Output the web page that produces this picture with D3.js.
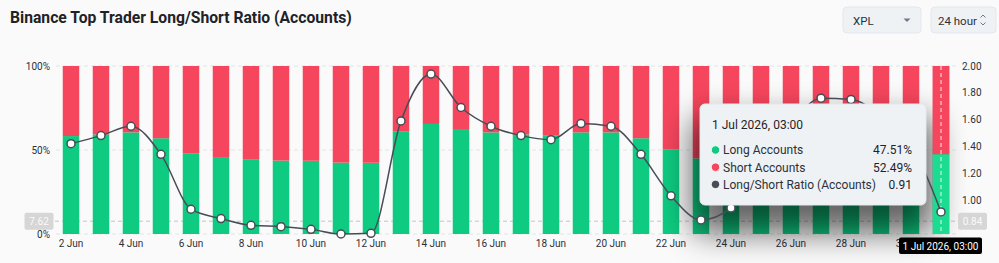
<!DOCTYPE html>
<html>
<head>
<meta charset="utf-8">
<script src="https://cdn.jsdelivr.net/npm/d3@7"></script>
<style>
  body { margin: 0; background: #fafafa; font-family: Roboto, "Noto Sans", sans-serif; }
  #chart { width: 999px; height: 263px; }
</style>
</head>
<body>
<div id="chart"></div>
<script>
// values
const days = ["2 Jun","3 Jun","4 Jun","5 Jun","6 Jun","7 Jun","8 Jun","9 Jun","10 Jun","11 Jun",
  "12 Jun","13 Jun","14 Jun","15 Jun","16 Jun","17 Jun","18 Jun","19 Jun","20 Jun","21 Jun",
  "22 Jun","23 Jun","24 Jun","25 Jun","26 Jun","27 Jun","28 Jun","29 Jun","30 Jun","1 Jul"];
const longPct = [58.3, 59.3, 60.5, 57.0, 47.8, 45.8, 44.2, 43.7, 43.6, 42.5,
  42.4, 60.9, 65.5, 62.5, 60.5, 59.3, 58.5, 60.5, 60.5, 57.0,
  50.2, 45.0, 48.5, 55.2, 60.9, 63.8, 63.6, 62.0, 58.7, 47.51];
const ratio = [1.42, 1.48, 1.55, 1.34, 0.93, 0.86, 0.81, 0.80, 0.78, 0.745,
  0.75, 1.59, 1.94, 1.69, 1.55, 1.48, 1.45, 1.57, 1.55, 1.34,
  1.03, 0.85, 0.94, 1.23, 1.56, 1.76, 1.75, 1.63, 1.42, 0.91];
const xTickLabels = ["2 Jun","4 Jun","6 Jun","8 Jun","10 Jun","12 Jun","14 Jun","16 Jun",
  "18 Jun","20 Jun","22 Jun","24 Jun","26 Jun","28 Jun","30 Jun"];
const leftTicks = [0, 50, 100];
const rightTicks = [1.0, 1.2, 1.4, 1.6, 1.8, 2.0];
const ratioMax = 2.0;

// hover state shown in the picture
const hoverIndex = 29;
const hoverTime = "1 Jul 2026, 03:00";
const cursorPct = 7.62;

const GREEN = "#0ecb81", GREEN_HI = "#1cdc92", RED = "#f6465d", LINE = "#474d57";
const TXT = "#2b3139";

const width = 999, height = 263;
const svg = d3.select("#chart").append("svg")
    .attr("width", width)
    .attr("height", height);

const defs = svg.append("defs");
const shadow = defs.append("filter")
    .attr("id", "tipShadow")
    .attr("filterUnits", "userSpaceOnUse")
    .attr("x", 560).attr("y", 40)
    .attr("width", 439).attr("height", 223);
shadow.append("feGaussianBlur").attr("stdDeviation", 16);

// title
svg.append("text")
    .attr("x", 10).attr("y", 23)
    .attr("font-size", 15.7)
    .attr("font-weight", 700)
    .attr("fill", "#1e2329")
    .text("Binance Top Trader Long/Short Ratio (Accounts)");

// select boxes
const sel = svg.append("g");
sel.append("rect").attr("x", 843).attr("y", 7).attr("width", 78).attr("height", 26)
    .attr("rx", 4).attr("fill", "#eff2f5").attr("stroke", "#e3e7eb");
sel.append("text").attr("x", 853).attr("y", 24.5).attr("font-size", 11.5).attr("fill", TXT).text("XPL");
sel.append("path").attr("d", "M903.5,18.5 L910.5,18.5 L907,22 Z").attr("fill", "#707a8a");
sel.append("rect").attr("x", 931).attr("y", 7).attr("width", 65).attr("height", 26)
    .attr("rx", 4).attr("fill", "#eff2f5").attr("stroke", "#e3e7eb");
sel.append("text").attr("x", 938).attr("y", 24.5).attr("font-size", 11.5).attr("fill", TXT).text("24 hour");
sel.append("path").attr("d", "M980.5,17.5 L983,15 L985.5,17.5 M980.5,22.5 L983,25 L985.5,22.5")
    .attr("fill", "none").attr("stroke", "#707a8a").attr("stroke-width", 1);

// scales
const x = d3.scaleBand()
    .domain(days)
    .range([56, 956])
    .paddingInner(0.45)
    .paddingOuter(0.225);

const yLeft = d3.scaleLinear()
    .domain([0, 100])
    .range([234, 66]);

const yRight = d3.scaleLinear()
    .domain([d3.min(ratio), ratioMax])
    .range([234, 66]);

const cx = d => x(d) + x.bandwidth() / 2;

// grid
svg.append("g").selectAll("line")
    .data(leftTicks)
    .join("line")
    .attr("x1", 56).attr("x2", 956)
    .attr("y1", d => yLeft(d)).attr("y2", d => yLeft(d))
    .attr("stroke", "#e4e4e4")
    .attr("stroke-dasharray", "4,3");

// axes
const leftAxis = svg.append("g")
    .attr("transform", "translate(50,0)")
    .call(d3.axisLeft(yLeft).tickValues(leftTicks).tickFormat(d => d + "%").tickSize(0).tickPadding(0));
const rightAxis = svg.append("g")
    .attr("transform", "translate(962,0)")
    .call(d3.axisRight(yRight).tickValues(rightTicks).tickFormat(d3.format(".2f")).tickSize(0).tickPadding(0));
const xAxis = svg.append("g")
    .attr("transform", "translate(0,240)")
    .call(d3.axisBottom(x).tickValues(xTickLabels).tickSize(0).tickPadding(0));
[leftAxis, rightAxis, xAxis].forEach(a => {
    a.select(".domain").remove();
    a.selectAll("text").attr("font-size", 10).attr("fill", TXT).attr("font-family", "Roboto, sans-serif");
});
xAxis.selectAll("text").attr("dy", "0.71em");

// cursor horizontal line (under bars)
const cursorY = yLeft(cursorPct);
svg.append("line")
    .attr("x1", 55).attr("x2", 957)
    .attr("y1", cursorY).attr("y2", cursorY)
    .attr("stroke", "#c4c4c4")
    .attr("stroke-dasharray", "4,3");

// stacked bars
const bars = svg.append("g");
bars.selectAll(".long")
    .data(days)
    .join("rect")
    .attr("class", "long")
    .attr("x", d => x(d))
    .attr("width", x.bandwidth())
    .attr("y", (d, i) => yLeft(longPct[i]))
    .attr("height", (d, i) => yLeft(0) - yLeft(longPct[i]))
    .attr("fill", GREEN);
bars.selectAll(".short")
    .data(days)
    .join("rect")
    .attr("class", "short")
    .attr("x", d => x(d))
    .attr("width", x.bandwidth())
    .attr("y", yLeft(100))
    .attr("height", (d, i) => yLeft(longPct[i]) - yLeft(100))
    .attr("fill", RED);

// tooltip geometry
const tip = {x: 700, y: 104, w: 226, h: 101};

// tooltip shadow
svg.append("rect")
    .attr("x", tip.x - 8).attr("y", tip.y + 14)
    .attr("width", tip.w + 16).attr("height", tip.h + 14)
    .attr("rx", 8)
    .attr("fill", "#000")
    .attr("opacity", 0.6)
    .attr("filter", "url(#tipShadow)");

// hovered bar on top
const hd = days[hoverIndex];
svg.append("rect")
    .attr("x", x(hd)).attr("width", x.bandwidth())
    .attr("y", yLeft(longPct[hoverIndex]))
    .attr("height", yLeft(0) - yLeft(longPct[hoverIndex]))
    .attr("fill", GREEN_HI);
svg.append("rect")
    .attr("x", x(hd)).attr("width", x.bandwidth())
    .attr("y", yLeft(100))
    .attr("height", yLeft(longPct[hoverIndex]) - yLeft(100))
    .attr("fill", RED);
svg.append("line")
    .attr("x1", cx(hd)).attr("x2", cx(hd))
    .attr("y1", 66).attr("y2", 234)
    .attr("stroke", "#ffffff")
    .attr("stroke-opacity", 0.85)
    .attr("stroke-dasharray", "4,3");

// ratio line
const line = d3.line()
    .x(d => cx(d))
    .y((d, i) => yRight(ratio[i]))
    .curve(d3.curveMonotoneX);
svg.append("path")
    .datum(days)
    .attr("d", line)
    .attr("fill", "none")
    .attr("stroke", LINE)
    .attr("stroke-width", 1.5);
svg.append("g").selectAll("circle")
    .data(days)
    .join("circle")
    .attr("cx", d => cx(d))
    .attr("cy", (d, i) => yRight(ratio[i]))
    .attr("r", 4)
    .attr("fill", "#fff")
    .attr("stroke", LINE)
    .attr("stroke-width", 1.5);

// tooltip
const tg = svg.append("g");
tg.append("rect")
    .attr("x", tip.x).attr("y", tip.y).attr("width", tip.w).attr("height", tip.h)
    .attr("rx", 5)
    .attr("fill", "#eff2f5")
    .attr("stroke", "#e4e8ec");
tg.append("text")
    .attr("x", 712).attr("y", 128.5)
    .attr("font-size", 12).attr("fill", "#1e2329")
    .text(hoverTime);
const rows = [
    {label: "Long Accounts", value: d3.format(".2f")(longPct[hoverIndex]) + "%", color: GREEN},
    {label: "Short Accounts", value: d3.format(".2f")(100 - longPct[hoverIndex]) + "%", color: RED},
    {label: "Long/Short Ratio (Accounts)", value: d3.format(".2f")(ratio[hoverIndex]), color: LINE}
];
const rowY = d3.scaleLinear().domain([0, 1]).range([150, 167.2]);
const rg = tg.selectAll(".row").data(rows).join("g").attr("class", "row");
rg.append("circle")
    .attr("cx", 715.5).attr("cy", (d, i) => rowY(i))
    .attr("r", 4.2)
    .attr("fill", d => d.color)
    .attr("stroke", "#fff").attr("stroke-width", 0.8);
rg.append("text")
    .attr("x", 723).attr("y", (d, i) => rowY(i)).attr("dy", "0.36em")
    .attr("font-size", 12).attr("fill", TXT)
    .text(d => d.label);
rg.append("text")
    .attr("x", 912).attr("y", (d, i) => rowY(i)).attr("dy", "0.36em")
    .attr("text-anchor", "end")
    .attr("font-size", 12).attr("fill", "#1e2329")
    .text(d => d.value);

// cursor labels
function axisTag(cxPos, text) {
    const g = svg.append("g");
    g.append("rect").attr("x", cxPos - 14.5).attr("y", cursorY - 8.5)
        .attr("width", 29).attr("height", 17).attr("rx", 2)
        .attr("fill", "#d6d6d6");
    g.append("text").attr("x", cxPos).attr("y", cursorY).attr("dy", "0.36em")
        .attr("text-anchor", "middle").attr("font-size", 10).attr("fill", "#fafafa")
        .text(text);
}
axisTag(39, d3.format(".2f")(cursorPct));
axisTag(972.5, d3.format(".2f")(yRight.invert(cursorY)));

// hovered time tag (covers the "30 Jun" tick as in the source)
const tt = svg.append("g");
tt.append("rect")
    .attr("x", cx(hd) - 42).attr("y", 237.5)
    .attr("width", 83).attr("height", 16.5).attr("rx", 2)
    .attr("fill", "#000");
tt.append("text")
    .attr("x", cx(hd) - 0.5).attr("y", 246).attr("dy", "0.36em")
    .attr("text-anchor", "middle").attr("font-size", 10).attr("fill", "#fff")
    .text(hoverTime);
</script>
</body>
</html>
